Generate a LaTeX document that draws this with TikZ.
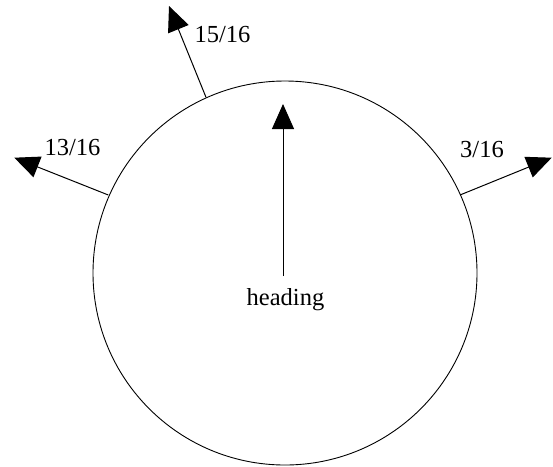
\documentclass[tikz,border=0pt]{standalone}
\usepackage{fontspec}
\setmainfont{Liberation Serif}
\usetikzlibrary{arrows.meta}
\begin{document}
\begin{tikzpicture}[x=1pt,y=-1pt,
  lbl/.style={inner sep=0pt,font=\fontsize{24.5}{28}\selectfont},
  ray/.style={line width=1pt,-{Triangle[length=25pt,width=22pt]}}]
\useasboundingbox (0,0) rectangle (553,466);
\node[draw,circle,line width=0.9pt,minimum size=384pt,inner sep=0pt] (c) at (285,273) {};
% boundary points and tips
\coordinate (s15) at (206,97.3);
\coordinate (t15) at (169,6);
\coordinate (s13) at (108.3,195);
\coordinate (t13) at (14.3,157.7);
\coordinate (s3) at (460,195);
\coordinate (t3) at (551.7,157.7);
\coordinate (hs) at (283,276);
\coordinate (ht) at (283,104);
\draw[ray] (s15) -- (t15);
\draw[ray] (s13) -- (t13);
\draw[ray] (s3) -- (t3);
\draw[ray] (hs) -- (ht);
\node[lbl,anchor=base west] (l15) at (194.3,42.7) {15/16};
\node[lbl,anchor=base west] (l13) at (44.3,155) {13/16};
\node[lbl,anchor=base west] (l3) at (460,157.3) {3/16};
\node[lbl,anchor=base] (hd) at (285.5,305) {heading};
\end{tikzpicture}
\end{document}
